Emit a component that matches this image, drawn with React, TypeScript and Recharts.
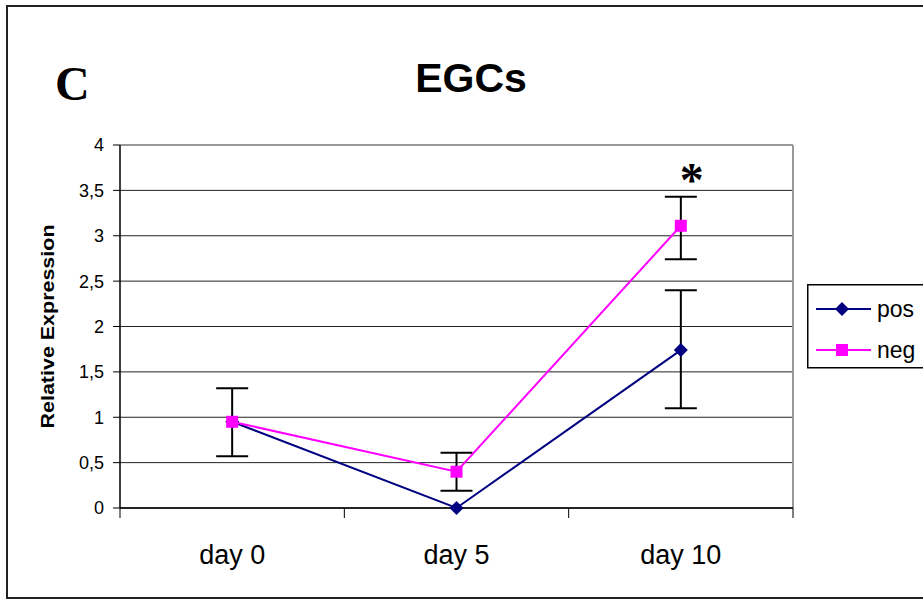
import React from 'react';
import { LineChart, Line, XAxis, YAxis, CartesianGrid, ErrorBar, ReferenceLine, LabelList } from 'recharts';

const categories = ['day 0', 'day 5', 'day 10'];
const posValues = [0.95, 0, 1.74];
const posErrLow = [0.38, null, 0.64];
const posErrHigh = [0.37, null, 0.66];
const negValues = [0.95, 0.4, 3.11];
const negErrLow = [null, 0.21, 0.37];
const negErrHigh = [null, 0.21, 0.32];
const marks = ['', '', '*'];
const yTicks = [0, 0.5, 1, 1.5, 2, 2.5, 3, 3.5, 4];
const xTicks = [0, 0.5, 1, 1.5, 2, 2.5, 3];

const POS = '#000080';
const NEG = '#FF00FF';
const SANS = '"Liberation Sans", Arial, sans-serif';
const SERIF = '"Liberation Serif", "Times New Roman", serif';

const data = categories.map((c, i) => ({
  x: i + 0.5,
  day: c,
  pos: posValues[i],
  neg: negValues[i],
  posErr: posErrLow[i] == null ? null : [posErrLow[i], posErrHigh[i]],
  negErr: negErrLow[i] == null ? null : [negErrLow[i], negErrHigh[i]],
  mark: marks[i],
}));

const Diamond = (props: any) => {
  const { cx, cy } = props;
  if (cx == null || cy == null) return null;
  const r = 7;
  return <polygon points={`${cx},${cy - r} ${cx + r},${cy} ${cx},${cy + r} ${cx - r},${cy}`} fill={POS} />;
};

const Square = (props: any) => {
  const { cx, cy } = props;
  if (cx == null || cy == null) return null;
  return <rect x={cx - 6} y={cy - 6} width={12} height={12} fill={NEG} />;
};

// integer ticks = category boundaries (tick marks), half ticks = category labels
const XTick = (props: any) => {
  const { x, y, payload } = props;
  const v = payload.value;
  if (Number.isInteger(v)) {
    return <line x1={x} y1={y} x2={x} y2={y + 10} stroke="#000" strokeWidth={1} />;
  }
  return (
    <text x={x} y={y + 56} textAnchor="middle" fontFamily={SANS} fontSize={27} fill="#000">
      {categories[Math.floor(v)]}
    </text>
  );
};

const YLabel = (props: any) => {
  const { viewBox } = props;
  const cx = viewBox.x - 13;
  const cy = viewBox.y + viewBox.height / 2;
  return (
    <text
      x={cx}
      y={cy}
      transform={`rotate(-90, ${cx}, ${cy})`}
      textAnchor="middle"
      dominantBaseline="central"
      fontFamily={SANS}
      fontWeight="bold"
      fontSize={19}
      textLength={204}
      lengthAdjust="spacingAndGlyphs"
      fill="#000"
    >
      Relative Expression
    </text>
  );
};

const Star = (props: any) => {
  const { x, y, value } = props;
  if (!value) return null;
  return (
    <text x={x + 11} y={y - 30} textAnchor="middle" fontFamily={SERIF} fontWeight="bold" fontSize={48} fill="#000">
      {value}
    </text>
  );
};

const LegendBox = () => (
  <svg width={140} height={86}>
    <rect x={0.75} y={0.75} width={150} height={83} fill="#fff" stroke="#000" strokeWidth={1.5} />
    <line x1={9} y1={25} x2={64} y2={25} stroke={POS} strokeWidth={2} />
    <Diamond cx={35} cy={25} />
    <text x={70} y={33} fontFamily={SANS} fontSize={23} fill="#000">pos</text>
    <line x1={9} y1={66} x2={64} y2={66} stroke={NEG} strokeWidth={2} />
    <Square cx={35} cy={66} />
    <text x={70} y={74} fontFamily={SANS} fontSize={23} fill="#000">neg</text>
  </svg>
);

export default function App() {
  return (
    <div style={{ position: 'absolute', left: 0, top: 0, width: 923, height: 599, overflow: 'hidden', background: '#fff' }}>
      <div
        style={{
          position: 'absolute',
          left: 6,
          top: 5,
          width: 1000,
          height: 594,
          border: '2px solid #222',
          boxSizing: 'border-box',
        }}
      />
      <svg width={923} height={130} style={{ position: 'absolute', left: 0, top: 0 }}>
        <text x={55} y={100} fontFamily={SERIF} fontWeight="bold" fontSize={48} fill="#000">C</text>
        <text x={471} y={92} textAnchor="middle" fontFamily={SANS} fontWeight="bold" fontSize={41} fill="#000">EGCs</text>
      </svg>
      <div style={{ position: 'absolute', left: 0, top: 0 }}>
        <LineChart width={923} height={599} data={data} margin={{ top: 145, right: 130, bottom: 31, left: 60 }}>
          <CartesianGrid vertical={false} stroke="#222" strokeWidth={1} />
          <XAxis
            dataKey="x"
            type="number"
            domain={[0, 3]}
            ticks={xTicks}
            interval={0}
            height={60}
            tickLine={false}
            tickSize={0}
            tickMargin={0}
            tick={<XTick />}
            axisLine={{ stroke: '#000', strokeWidth: 1.5 }}
          />
          <YAxis
            domain={[0, 4]}
            ticks={yTicks}
            interval={0}
            width={60}
            tickSize={7}
            tickMargin={9}
            tickFormatter={(v: number) => String(v).replace('.', ',')}
            tick={{ fontFamily: SANS, fontSize: 18, fill: '#000' }}
            tickLine={{ stroke: '#000' }}
            axisLine={{ stroke: '#000', strokeWidth: 1.5 }}
            label={<YLabel />}
          />
          <ReferenceLine y={4} stroke="#999" strokeWidth={2} />
          <ReferenceLine x={3} stroke="#999" strokeWidth={2} />
          <Line dataKey="pos" stroke={POS} strokeWidth={2} dot={<Diamond />} activeDot={false} isAnimationActive={false}>
            <ErrorBar dataKey="posErr" direction="y" width={16} stroke="#000" strokeWidth={2} isAnimationActive={false} />
          </Line>
          <Line dataKey="neg" stroke={NEG} strokeWidth={2} dot={<Square />} activeDot={false} isAnimationActive={false}>
            <ErrorBar dataKey="negErr" direction="y" width={16} stroke="#000" strokeWidth={2} isAnimationActive={false} />
            <LabelList dataKey="mark" content={<Star />} />
          </Line>
        </LineChart>
      </div>
      <div style={{ position: 'absolute', left: 807, top: 284 }}>
        <LegendBox />
      </div>
    </div>
  );
}
